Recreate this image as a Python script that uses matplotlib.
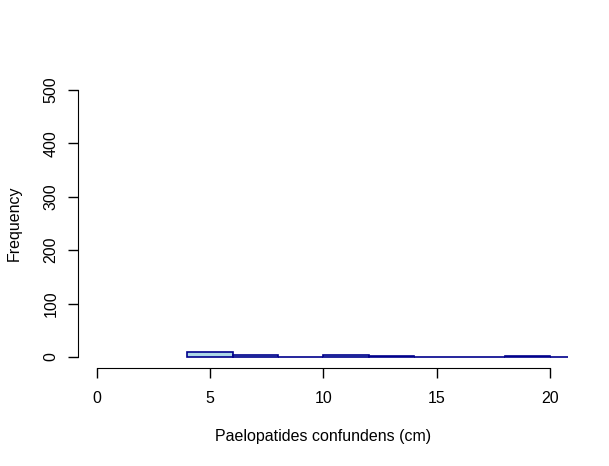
import numpy as np
import matplotlib
matplotlib.use("Agg")
import matplotlib.pyplot as plt

# histogram data
bin_edges = [4, 6, 8, 10, 12, 14, 16, 18, 20, 20.8]
counts = [9, 3, 0, 3, 1, 0, 0, 1, 0]
x_ticks = [0, 5, 10, 15, 20]
y_ticks = [0, 100, 200, 300, 400, 500]

plt.rcParams['font.family'] = ['Liberation Sans', 'DejaVu Sans']

fig = plt.figure(figsize=(6.09, 4.66), dpi=100)
ax = fig.add_axes([78 / 609, 1 - 367.7 / 466, (587 - 78) / 609, (367.7 - 79.3) / 466])

edges = np.array(bin_edges)
ax.bar(edges[:-1], counts, width=np.diff(edges), align='edge',
       color='#ADD8E6', edgecolor='#00008B', linewidth=1.2)

ax.set_xlim(-0.832, 21.632)
ax.set_ylim(-20, 520)

for side in ['top', 'right']:
    ax.spines[side].set_visible(False)
ax.spines['left'].set_bounds(0, 500)
ax.spines['bottom'].set_bounds(0, 20)

ax.set_xticks(x_ticks)
ax.set_yticks(y_ticks)
ax.set_yticklabels([str(v) for v in y_ticks], rotation=90, va='center')
ax.tick_params(axis='both', length=7, width=1, labelsize=11.5, direction='out')
ax.tick_params(axis='x', pad=10)
ax.tick_params(axis='y', pad=7)

fig.text(323 / 609, 1 - 437 / 466, 'Paelopatides confundens (cm)',
         ha='center', va='center', fontsize=11.5)
fig.text(14 / 609, 1 - 223.5 / 466, 'Frequency', rotation=90,
         ha='center', va='center', fontsize=11.5)

fig.savefig('out.png', dpi=100, facecolor='white')
